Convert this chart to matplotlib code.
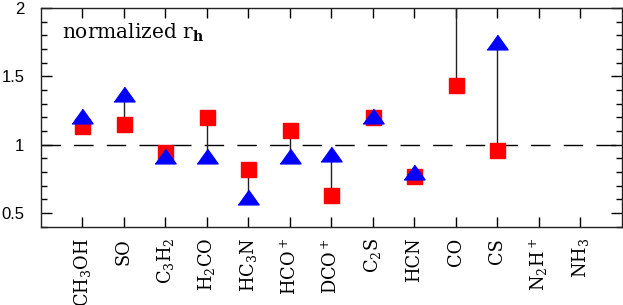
import matplotlib
matplotlib.use("Agg")
import matplotlib.pyplot as plt
import numpy as np

# molecules along the x axis
molecules = [r"CH$_3$OH", "SO", r"C$_3$H$_2$", r"H$_2$CO", r"HC$_3$N", r"HCO$^+$",
             r"DCO$^+$", r"C$_2$S", "HCN", "CO", "CS", r"N$_2$H$^+$", r"NH$_3$"]
# normalized r_h, red squares and blue triangles (nan = no value)
r_square = [1.14, 1.15, 0.95, 1.20, 0.82, 1.11, 0.63, 1.20, 0.77, 1.44, 0.96, np.nan, np.nan]
r_triangle = [1.21, 1.37, 0.915, 0.92, 0.62, 0.92, 0.93, 1.21, 0.80, 2.30, 1.75, np.nan, np.nan]

plt.rcParams['mathtext.fontset'] = 'dejavuserif'

fig = plt.figure(figsize=(6.23, 3.05), dpi=100)
ax = fig.add_axes([0.0658, 0.2567, 0.9320, 0.7171])

x = np.arange(len(molecules))
sq = np.array(r_square)
tr = np.array(r_triangle)

ax.axhline(1.0, color='black', lw=1.0, dashes=(14, 9.5), zorder=1)
ax.vlines(x, sq, tr, color='#222222', lw=1.0, zorder=2)
ax.plot(x, sq, ls='none', marker='s', ms=10.8, color='red', mec='red', zorder=3)
tri = [(-1, -0.7), (1, -0.7), (0, 0.7)]
ax.plot(x, tr, ls='none', marker=tri, ms=15.2, color='blue', mec='blue', zorder=4)

ax.set_xlim(-1, len(molecules))
ax.set_ylim(0.4, 2.0)
ax.set_xticks(x)
ax.set_xticklabels(molecules, rotation=90, family='DejaVu Serif', fontsize=12.8)
ax.set_yticks([0.5, 1, 1.5, 2])
ax.set_yticklabels(['0.5', '1', '1.5', '2'], family='Liberation Sans', fontsize=12)
ax.set_yticks(np.arange(0.4, 2.0, 0.1), minor=True)

ax.tick_params(axis='x', direction='in', top=True, length=7, width=1, pad=8)
ax.tick_params(axis='y', which='major', direction='in', right=True, length=8, width=1, pad=12)
ax.tick_params(axis='y', which='minor', direction='in', right=True, length=4, width=1)
for s in ax.spines.values():
    s.set_linewidth(1.0)
    s.set_color('#222222')

ax.text(0.036, 0.858, r"normalized r$_{\mathbf{h}}$", transform=ax.transAxes,
        family='DejaVu Serif', fontsize=14.5, ha='left', va='baseline')

fig.savefig('out.png', dpi=100)
